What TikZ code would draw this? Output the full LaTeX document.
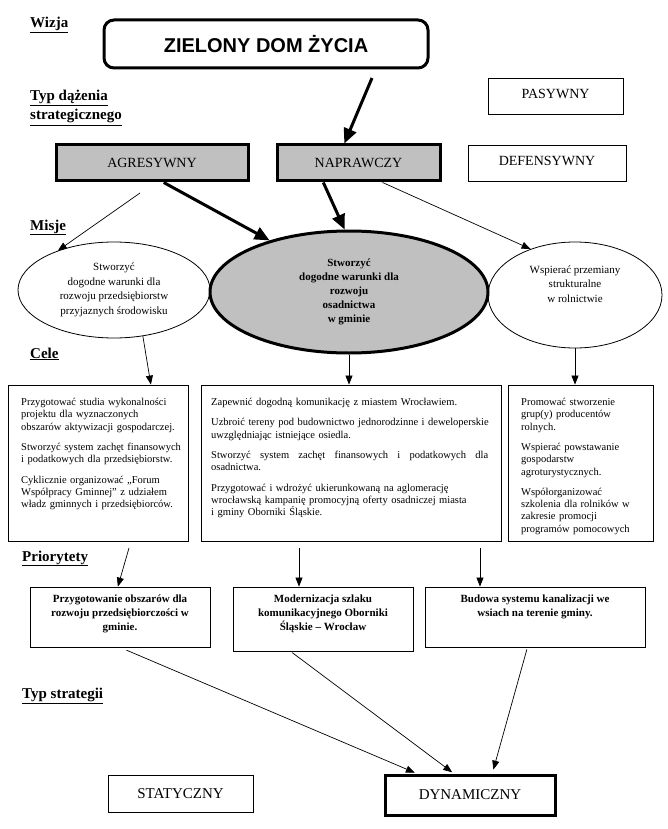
\documentclass[tikz,border=0pt]{standalone}
\usepackage{fontspec}
\setmainfont{Liberation Serif}
\newfontfamily\arialfont{Liberation Sans}
\usetikzlibrary{arrows.meta,shapes.geometric}
\definecolor{silver}{HTML}{C0C0C0}

\begin{document}
\begin{tikzpicture}[x=1pt,y=-1pt,
  box/.style={draw,line width=0.8pt,inner sep=0pt,font=\fontsize{14}{16}\selectfont},
  fatbox/.style={box,line width=3pt},
  greybox/.style={fatbox,fill=silver},
  head/.style={anchor=base west,inner sep=0pt,font=\bfseries\fontsize{15}{17}\selectfont},
  misja/.style={ellipse,draw,line width=0.8pt,inner sep=0pt,align=center,font=\fontsize{11}{14.5}\selectfont},
  txt/.style={anchor=north west,inner sep=0pt,align=left,font=\fontsize{10.5}{12.3}\selectfont\hyphenpenalty10000\relax},
  prio/.style={anchor=north,inner sep=0pt,yshift=-8pt,align=center,font=\bfseries\fontsize{11}{14.2}\selectfont},
  pointer/.style={line width=0.7pt,-{Triangle[length=9pt,width=7pt]}},
  bigpointer/.style={line width=3pt,-{Triangle[length=15pt,width=13pt]}}]

\useasboundingbox (0,0) rectangle (668,829);

% etykiety poziomow
\node[head] (wizja) at (30,28) {\underline{Wizja}};
\node[head] (typA) at (30,101) {\underline{Typ dążenia}};
\node[head] (typB) at (30,120) {\underline{strategicznego}};
\node[head] (misje) at (30,230) {\underline{Misje}};
\node[head] (cele) at (30,358) {\underline{Cele}};
\node[head] (prior) at (22,561) {\underline{Priorytety}};
\node[head] (typS) at (22,698) {\underline{Typ strategii}};

% wizja i typ dazenia
\node[fatbox,rounded corners=10pt,minimum width=324pt,minimum height=48pt,
  font=\arialfont\bfseries\fontsize{20}{24}\selectfont] (dom) at (266,44) {ZIELONY DOM ŻYCIA};
\node[box,minimum width=135pt,minimum height=36pt] (pas) at (555.5,96) {\raisebox{4pt}{PASYWNY}};
\node[greybox,minimum width=192pt,minimum height=36pt] (agr) at (152,163) {AGRESYWNY};
\node[greybox,minimum width=163pt,minimum height=36pt] (nap) at (358.5,163) {NAPRAWCZY};
\node[box,minimum width=158pt,minimum height=36pt] (def) at (547,163) {\raisebox{5pt}{DEFENSYWNY}};

% misje
\node[misja,minimum width=192pt,minimum height=96pt] (eL) at (114,290)
  {Stworzyć\\ dogodne warunki dla\\ rozwoju przedsiębiorstw\\ przyjaznych środowisku};
\node[misja,line width=3pt,fill=silver,minimum width=278pt,minimum height=122pt,
  font=\bfseries\fontsize{11}{14}\selectfont] (eM) at (349,292)
  {Stworzyć\\ dogodne warunki dla\\ rozwoju\\ osadnictwa\\ w gminie};
\node[misja,minimum width=174pt,minimum height=106pt] (eR) at (575,295)
  {Wspierać przemiany\\ strukturalne\\ w rolnictwie\\[8pt]};

% cele
\node[box,minimum width=180pt,minimum height=156pt] (cL) at (98,463) {};
\node[box,minimum width=300pt,minimum height=156pt] (cM) at (351,463) {};
\node[box,minimum width=145pt,minimum height=156pt] (cR) at (580.5,463) {};

\node[txt,text width=175pt] (tL) at (21,398) {Przygotować studia wykonalności\\
  projektu dla wyznaczonych\\ obszarów aktywizacji gospodarczej.\\[8pt]
  Stworzyć system zachęt finansowych\\ i podatkowych dla przedsiębiorstw.\\[8pt]
  Cyklicznie organizować „Forum\\ Współpracy Gminnej” z udziałem\\
  władz gminnych i przedsiębiorców.};
\node[txt,text width=300pt] (tM) at (211,398) {Zapewnić dogodną komunikację z miastem Wrocławiem.\\[8pt]
  Uzbroić tereny pod budownictwo jednorodzinne i deweloperskie\\
  uwzględniając istniejące osiedla.\\[8pt]
  \makebox[277pt][l]{Stworzyć\hfill system\hfill zachęt\hfill finansowych\hfill i\hfill podatkowych\hfill dla}\\ osadnictwa.\\[8pt]
  Przygotować i wdrożyć ukierunkowaną na aglomerację\\
  wrocławską kampanię promocyjną oferty osadniczej miasta\\ i gminy Oborniki Śląskie.};
\node[txt,text width=135pt] (tR) at (521,398) {Promować stworzenie\\ grup(y) producentów\\ rolnych.\\[8pt]
  Wspierać powstawanie\\ gospodarstw\\ agroturystycznych.\\[8pt]
  Współorganizować\\ szkolenia dla rolników w\\ zakresie promocji\\ programów pomocowych};

% priorytety
\node[box,minimum width=180pt,minimum height=60pt] (pL) at (120,617) {};
\node[box,minimum width=180pt,minimum height=64pt] (pM) at (323,619) {};
\node[box,minimum width=220pt,minimum height=60pt] (pR) at (535,617) {};
\node[prio] (qL) at (pL.north) {Przygotowanie obszarów dla\\ rozwoju przedsiębiorczości w\\ gminie.};
\node[prio] (qM) at (pM.north) {Modernizacja szlaku\\ komunikacyjnego Oborniki\\ Śląskie -- Wrocław};
\node[prio] (qR) at (pR.north) {Budowa systemu kanalizacji we\\ wsiach na terenie gminy.};

% typ strategii
\node[box,minimum width=145pt,minimum height=37pt,font=\fontsize{15}{18}\selectfont] (stat) at (180.5,793.5) {STATYCZNY};
\node[fatbox,minimum width=170pt,minimum height=40pt,font=\fontsize{15}{18}\selectfont] (dyn) at (470,795) {DYNAMICZNY};

% polaczenia
\coordinate (z1) at (372,78);
\coordinate (a1) at (140,193);
\draw[bigpointer] (z1) -- (nap.126);
\draw[bigpointer] (agr.-59) -- (eM.147);
\draw[bigpointer] (nap.209) -- (eM.94);
\draw[pointer] (a1) -- (eL.145);
\draw[pointer] (nap.-39) -- (eR.134);

\draw[pointer] (eL.-58) -- (cL.56);
\draw[pointer] (eM.south) -- (eM.south |- cM.north);
\draw[pointer] (eR.south) -- (eR.south |- cR.north);

\coordinate (c1) at (129,548);
\coordinate (c2) at (299,548);
\coordinate (c3) at (480,548);
\draw[pointer] (c1) -- (pL.94);
\draw[pointer] (c2) -- (c2 |- pM.north);
\draw[pointer] (c3) -- (c3 |- pR.north);

\draw[pointer,shorten <=7pt,shorten >=2pt] (pL.south) -- (dyn.158);
\draw[pointer,shorten <=2pt,shorten >=2pt] (pM.-135) -- (dyn.127);
\draw[pointer,shorten <=2pt,shorten >=4pt] (pR.-104) -- (dyn.44);
\end{tikzpicture}
\end{document}
